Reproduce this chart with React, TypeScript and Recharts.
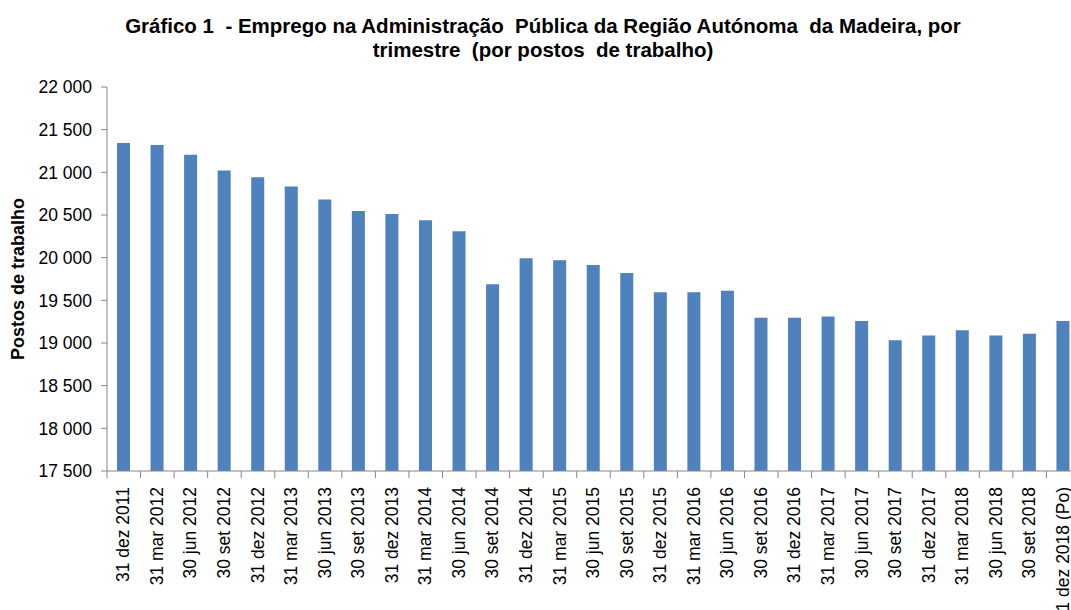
import React from "react";
import { BarChart, Bar, XAxis, YAxis } from "recharts";

const categories = [
  "31 dez 2011", "31 mar 2012", "30 jun 2012", "30 set 2012", "31 dez 2012",
  "31 mar 2013", "30 jun 2013", "30 set 2013", "31 dez 2013", "31 mar 2014",
  "30 jun 2014", "30 set 2014", "31 dez 2014", "31 mar 2015", "30 jun 2015",
  "30 set 2015", "31 dez 2015", "31 mar 2016", "30 jun 2016", "30 set 2016",
  "31 dez 2016", "31 mar 2017", "30 jun 2017", "30 set 2017", "31 dez 2017",
  "31 mar 2018", "30 jun 2018", "30 set 2018", "31 dez 2018 (Po)",
];

const postos = [
  21343, 21320, 21206, 21022, 20943, 20834, 20681, 20548, 20512, 20439,
  20310, 19688, 19993, 19969, 19914, 19820, 19594, 19594, 19613, 19296,
  19296, 19312, 19257, 19031, 19089, 19148, 19089, 19108, 19257,
];

const yTicks = [17500, 18000, 18500, 19000, 19500, 20000, 20500, 21000, 21500, 22000];

const titleLines = [
  "Gráfico 1  - Emprego na Administração  Pública da Região Autónoma  da Madeira, por",
  "trimestre  (por postos  de trabalho)",
];

const CHART_W = 1100;
const CHART_H = 612;
const Y_AXIS_W = 107;
const MARGIN = { top: 87, right: 20, bottom: 0, left: 0 };
const TICK_SIZE = 7;
const TICK_MARGIN = 9;
const AXIS_COLOR = "#868686";
const FONT = "'Liberation Sans', Arial, sans-serif";
const TICK_FONT_SIZE = 17.5;

const data = categories.map((label, i) => ({ label, value: postos[i] }));

const fmt = (v: number) => String(v).replace(/\B(?=(\d{3})+(?!\d))/g, " ");

const band = (CHART_W - MARGIN.left - MARGIN.right - Y_AXIS_W) / categories.length;

function XTick(props: any) {
  const { x, y, payload, index } = props;
  const axisY = y - TICK_SIZE - TICK_MARGIN;
  const left = x - band / 2;
  const right = x + band / 2;
  return (
    <g>
      <line x1={left} y1={axisY} x2={left} y2={axisY + TICK_SIZE} stroke={AXIS_COLOR} />
      {index === categories.length - 1 && (
        <line x1={right} y1={axisY} x2={right} y2={axisY + TICK_SIZE} stroke={AXIS_COLOR} />
      )}
      <text
        x={x}
        y={y}
        transform={`rotate(-90 ${x} ${y})`}
        textAnchor="end"
        dy="0.32em"
        fontSize={TICK_FONT_SIZE}
        fontFamily={FONT}
        fill="#000"
      >
        {payload.value}
      </text>
    </g>
  );
}

function YLabel(props: any) {
  const { viewBox } = props;
  const cx = viewBox.x + 18;
  const cy = viewBox.y + viewBox.height / 2;
  return (
    <text
      x={cx}
      y={cy}
      transform={`rotate(-90 ${cx} ${cy})`}
      textAnchor="middle"
      dy="0.35em"
      fontSize={18}
      fontWeight="bold"
      fontFamily={FONT}
      fill="#000"
    >
      Postos de trabalho
    </text>
  );
}

export default function App() {
  return (
    <div
      style={{
        position: "fixed",
        left: 0,
        top: 0,
        width: 1071,
        height: 610,
        overflow: "hidden",
        background: "#fff",
      }}
    >
      <div
        style={{
          position: "absolute",
          left: 0,
          top: 14,
          width: 1086,
          textAlign: "center",
          fontFamily: FONT,
          fontWeight: "bold",
          fontSize: 20.5,
          lineHeight: "24px",
          whiteSpace: "pre",
          color: "#000",
        }}
      >
        {titleLines.map((t) => (
          <div key={t}>{t}</div>
        ))}
      </div>
      <BarChart width={CHART_W} height={CHART_H} data={data} margin={MARGIN}>
        <XAxis
          dataKey="label"
          interval={0}
          height={CHART_H - 471}
          tickLine={false}
          tickSize={TICK_SIZE}
          tickMargin={TICK_MARGIN}
          axisLine={{ stroke: AXIS_COLOR }}
          tick={(p: any) => <XTick {...p} />}
        />
        <YAxis
          width={Y_AXIS_W}
          domain={[17500, 22000]}
          ticks={yTicks}
          interval={0}
          tickFormatter={fmt}
          tickSize={6}
          tickMargin={9}
          axisLine={{ stroke: AXIS_COLOR }}
          tickLine={{ stroke: AXIS_COLOR }}
          tick={{ fontSize: TICK_FONT_SIZE, fontFamily: FONT, fill: "#000" }}
          label={<YLabel />}
        />
        <Bar dataKey="value" fill="#4F81BD" barSize={13} isAnimationActive={false} />
      </BarChart>
    </div>
  );
}
